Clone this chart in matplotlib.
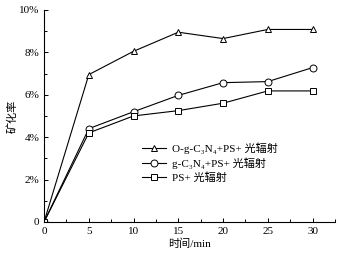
import numpy as np
import matplotlib.pyplot as plt
from matplotlib.ticker import MultipleLocator, FuncFormatter

plt.rcParams['font.family'] = ['Liberation Serif', 'DejaVu Serif', 'Noto Sans CJK SC']

time_min = [0, 5, 10, 15, 20, 25, 30]
o_gcn_ps = [0, 6.95, 8.05, 8.95, 8.65, 9.08, 9.08]
gcn_ps = [0, 4.4, 5.2, 5.97, 6.57, 6.62, 7.28]
ps_only = [0, 4.2, 5.0, 5.25, 5.6, 6.18, 6.18]

labels = ['O-g-C\u2083N\u2084+PS+ 光辐射', 'g-C\u2083N\u2084+PS+ 光辐射', 'PS+ 光辐射']
markers = ['^', 'o', 's']

fig = plt.figure(figsize=(3.39, 2.62), dpi=100)
ax = fig.add_axes([0.13, 0.153, 0.858, 0.809])

for y, lab, m in zip([o_gcn_ps, gcn_ps, ps_only], labels, markers):
    ax.plot(time_min, y, color='black', linewidth=0.8, marker=m, markersize=5,
            markerfacecolor='white', markeredgecolor='black', markeredgewidth=0.7, label=lab)

ax.set_xlim(0, 32.5)
ax.set_ylim(0, 10)
ax.xaxis.set_major_locator(MultipleLocator(5))
ax.xaxis.set_minor_locator(MultipleLocator(2.5))
ax.yaxis.set_major_locator(MultipleLocator(2))
ax.yaxis.set_minor_locator(MultipleLocator(1))
ax.yaxis.set_major_formatter(FuncFormatter(lambda v, p: '0' if v == 0 else f'{v:.0f}%'))

for s in ['top', 'right']:
    ax.spines[s].set_visible(False)
for s in ['left', 'bottom']:
    ax.spines[s].set_linewidth(0.8)
ax.tick_params(which='both', direction='in', labelsize=8, width=0.7)
ax.tick_params(which='major', length=3)
ax.tick_params(which='minor', length=2)

ax.set_xlabel('时间/min', fontsize=8, labelpad=2)
ax.set_ylabel('矿化率', fontsize=8, labelpad=1)

ax.legend(loc='center left', bbox_to_anchor=(0.32, 0.28), frameon=False, fontsize=8,
          handlelength=2.2, handletextpad=0.5, labelspacing=0.3, borderaxespad=0)

fig.savefig('out.png', dpi=100)
